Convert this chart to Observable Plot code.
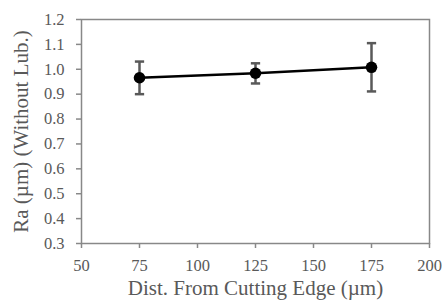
<!DOCTYPE html>
<html><head><meta charset="utf-8">
<script src="https://cdn.jsdelivr.net/npm/d3@7"></script>
<script src="https://cdn.jsdelivr.net/npm/@observablehq/plot@0.6"></script>
<style>
body{margin:0;background:#fff}
#chart svg text{font-family:"Liberation Serif",serif !important;font-size:16.5px !important;fill:#595959 !important;}
#chart svg g[aria-label="x-axis label"] text, #chart svg g[aria-label="y-axis label"] text{font-size:21px !important;}
</style>
</head><body>
<div id="chart"></div>
<script>
const dist = [75, 125, 175];
const ra = [0.966, 0.984, 1.008];
const errHi = [1.031, 1.024, 1.105];
const errLo = [0.900, 0.943, 0.911];
const xTicks = [50, 75, 100, 125, 150, 175, 200];
const yTicks = [0.3, 0.4, 0.5, 0.6, 0.7, 0.8, 0.9, 1.0, 1.1, 1.2];

const data = dist.map((d, i) => ({x: d, y: ra[i], hi: errHi[i], lo: errLo[i]}));
const capHalf = 2;
const grey = "#888888";

const plot = Plot.plot({
  width: 445, height: 301,
  marginLeft: 81, marginRight: 16, marginTop: 19, marginBottom: 58,
  style: {fontFamily: "'Liberation Serif', serif"},
  x: {domain: [50, 200], label: null},
  y: {domain: [0.3, 1.2], label: null},
  marks: [
    Plot.frame({stroke: grey, strokeWidth: 1.5}),
    Plot.axisX({ticks: xTicks, tickSize: 5, stroke: grey, strokeWidth: 1.5, tickPadding: 11, fontSize: 16.5,
      label: "Dist. From Cutting Edge (µm)", labelAnchor: "center", labelArrow: "none", labelOffset: 51}),
    Plot.axisY({ticks: yTicks, tickSize: 5, stroke: grey, strokeWidth: 1.5, tickPadding: 12, fontSize: 16.5,
      tickFormat: d3.format(".1f"),
      label: "Ra (µm) (Without Lub.)", labelAnchor: "center", labelArrow: "none", labelOffset: 68}),
    Plot.ruleX(data, {x: "x", y1: "lo", y2: "hi", stroke: "#595959", strokeWidth: 2.5}),
    Plot.link(data, {x1: d => d.x - capHalf, x2: d => d.x + capHalf, y1: "hi", y2: "hi", stroke: "#595959", strokeWidth: 2.5}),
    Plot.link(data, {x1: d => d.x - capHalf, x2: d => d.x + capHalf, y1: "lo", y2: "lo", stroke: "#595959", strokeWidth: 2.5}),
    Plot.line(data, {x: "x", y: "y", stroke: "#000", strokeWidth: 2.5}),
    Plot.dot(data, {x: "x", y: "y", r: 5.8, fill: "#000"})
  ]
});
document.getElementById("chart").appendChild(plot);
</script>
</body></html>
